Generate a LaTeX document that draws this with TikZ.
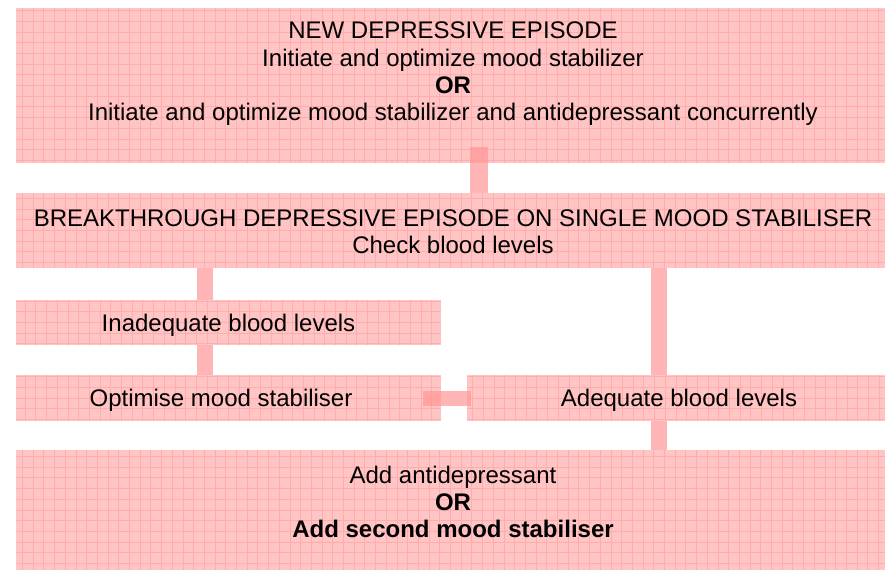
\documentclass[tikz,border=0pt]{standalone}
\usepackage{fontspec}
\setmainfont{Liberation Sans}
\definecolor{boxpink}{RGB}{255,196,196}
\definecolor{gridpink}{RGB}{255,172,172}
\definecolor{connpink}{RGB}{255,150,150}
\begin{document}
\begin{tikzpicture}[x=1pt,y=-1pt,
  box/.style={rectangle, fill=boxpink, draw=none, inner sep=0pt,
    path picture={\draw[gridpink, line width=0.9pt, step=10.7pt]
      (path picture bounding box.south west) grid (path picture bounding box.north east);}},
  txt/.style={align=center, inner sep=0pt, font=\fontsize{24}{27.3}\selectfont, text=black},
  conn/.style={draw=connpink, draw opacity=0.7, line cap=butt}
]
\useasboundingbox (0,0) rectangle (885,570);
% boxes
\node[box, minimum width=869pt, minimum height=155pt] (b1) at (450.5,85.5) {};
\node[box, minimum width=869pt, minimum height=75pt] (b2) at (450.5,230.5) {};
\node[box, minimum width=425pt, minimum height=45pt] (b3) at (228.5,322.5) {};
\node[box, minimum width=425pt, minimum height=46pt] (b4) at (228.5,398) {};
\node[box, minimum width=418pt, minimum height=46pt] (b5) at (676,398) {};
\node[box, minimum width=869pt, minimum height=120pt] (b6) at (450.5,510) {};
% connectors
\draw[conn, line width=18pt] ([xshift=28.5pt,yshift=16pt]b1.south) -- ([xshift=28.5pt]b2.north);
\draw[conn, line width=16pt] ([xshift=-23.5pt]b3.north |- b2.south) -- ([xshift=-23.5pt]b3.north);
\draw[conn, line width=16pt] ([xshift=-23.5pt]b3.south) -- ([xshift=-23.5pt]b4.north);
\draw[conn, line width=16pt] ([xshift=-17pt]b5.north |- b2.south) -- ([xshift=-17pt]b5.north);
\draw[conn, line width=16pt] ([xshift=-17pt]b5.south) -- ([xshift=-17pt]b5.south |- b6.north);
\draw[conn, line width=15pt] ([xshift=-18pt]b4.east) -- ([xshift=4pt]b5.west);
% texts
\node[txt] (t1) at (453,74) {NEW DEPRESSIVE EPISODE\\Initiate and optimize mood stabilizer\\\textbf{OR}\\Initiate and optimize mood stabilizer and antidepressant concurrently};
\node[txt] (t2) at (453,232) {BREAKTHROUGH DEPRESSIVE EPISODE ON SINGLE MOOD STABILISER\\Check blood levels};
\node[txt] (t3) at (228.5,325) {Inadequate blood levels};
\node[txt] (t4) at (221,400) {Optimise mood stabiliser};
\node[txt] (t5) at (679,400) {Adequate blood levels};
\node[txt] (t6) at (453,502) {Add antidepressant\\\textbf{OR}\\\textbf{Add second mood stabiliser}};
\end{tikzpicture}
\end{document}
